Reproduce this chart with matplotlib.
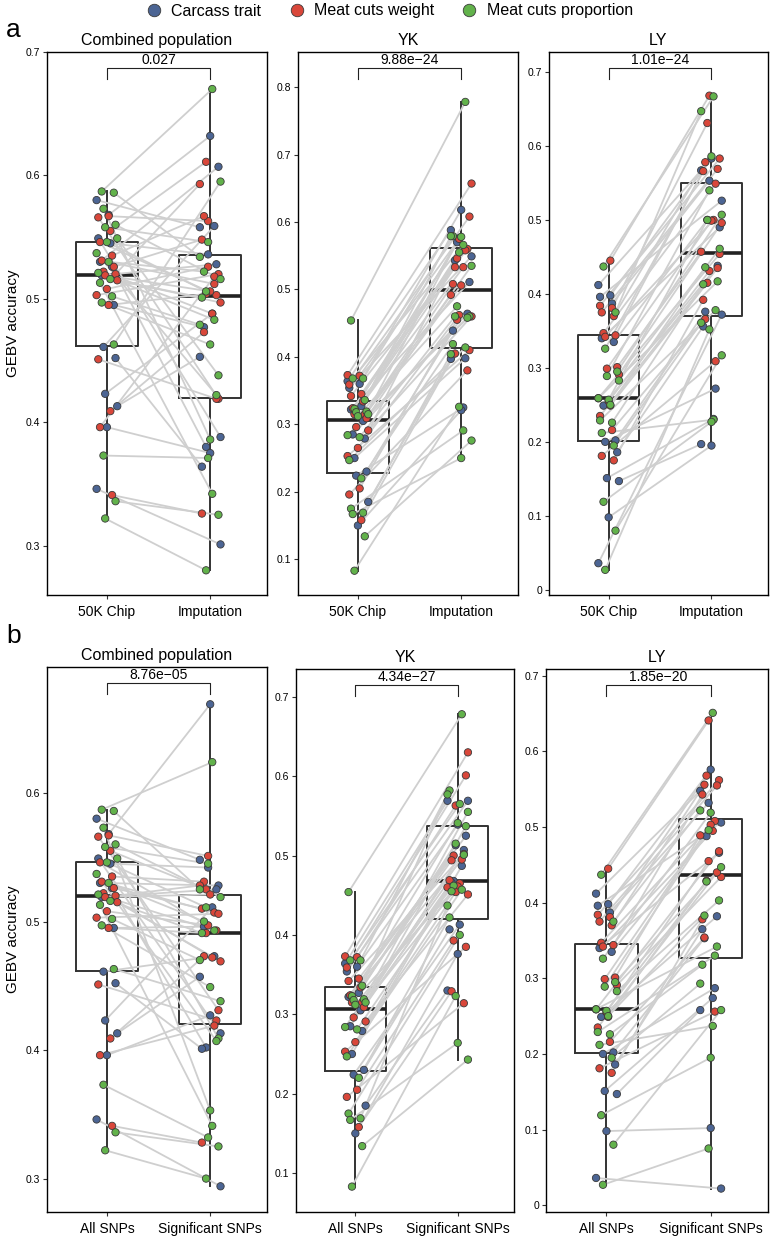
import matplotlib
matplotlib.use('Agg')

import matplotlib.pyplot as plt
from matplotlib.lines import Line2D
import numpy as np

plt.rcParams['font.family'] = ['Liberation Sans', 'DejaVu Sans']

# trait category of each trait (C = carcass trait, W = meat cuts weight, P = meat cuts proportion)
comb_type = ['C'] * 14 + ['W'] * 18 + ['P'] * 18
yk_type = ['C'] * 13 + ['W'] * 17 + ['P'] * 18
ly_type = ['C'] * 14 + ['W'] * 18 + ['P'] * 16

# Combined population: 50K chip (= All SNPs), imputation, significant SNPs
comb_chip = [0.580, 0.568, 0.549, 0.545, 0.530, 0.526, 0.519, 0.495, 0.461, 0.452, 0.423, 0.413, 0.396, 0.346,
             0.567, 0.566, 0.555, 0.546, 0.535, 0.531, 0.526, 0.522, 0.520, 0.519, 0.515, 0.508, 0.503, 0.495,
             0.451, 0.409, 0.396, 0.341,
             0.587, 0.586, 0.573, 0.560, 0.558, 0.549, 0.546, 0.537, 0.530, 0.521, 0.516, 0.513, 0.502, 0.497,
             0.463, 0.373, 0.336, 0.322]
comb_imp = [0.558, 0.632, 0.388, 0.536, 0.607, 0.380, 0.528, 0.477, 0.559, 0.364, 0.488, 0.453, 0.375, 0.301,
            0.563, 0.419, 0.611, 0.503, 0.567, 0.512, 0.548, 0.488, 0.593, 0.506, 0.497, 0.526, 0.520, 0.504,
            0.419, 0.473, 0.518, 0.326,
            0.670, 0.534, 0.386, 0.516, 0.546, 0.438, 0.506, 0.422, 0.522, 0.483, 0.501, 0.342, 0.479, 0.463,
            0.595, 0.371, 0.325, 0.280]
comb_sig = [0.548, 0.669, 0.413, 0.542, 0.528, 0.402, 0.525, 0.496, 0.473, 0.401, 0.511, 0.457, 0.427, 0.294,
            0.551, 0.431, 0.525, 0.493, 0.531, 0.507, 0.510, 0.472, 0.528, 0.521, 0.469, 0.497, 0.506, 0.491,
            0.423, 0.473, 0.419, 0.328,
            0.624, 0.525, 0.353, 0.519, 0.545, 0.409, 0.511, 0.407, 0.500, 0.493, 0.491, 0.341, 0.470, 0.449,
            0.438, 0.332, 0.325, 0.300]

# YK
yk_chip = [0.364, 0.360, 0.354, 0.327, 0.322, 0.305, 0.285, 0.279, 0.250, 0.230, 0.224, 0.185, 0.150,
           0.373, 0.372, 0.359, 0.345, 0.342, 0.334, 0.324, 0.315, 0.315, 0.309, 0.296, 0.291, 0.265, 0.253,
           0.205, 0.196, 0.158,
           0.454, 0.368, 0.368, 0.336, 0.323, 0.319, 0.318, 0.315, 0.312, 0.284, 0.281, 0.247, 0.220, 0.175,
           0.169, 0.167, 0.134, 0.083]
yk_imp = [0.588, 0.618, 0.549, 0.576, 0.511, 0.570, 0.464, 0.543, 0.398, 0.439, 0.325, 0.397, 0.321,
          0.657, 0.575, 0.608, 0.546, 0.560, 0.533, 0.558, 0.508, 0.533, 0.492, 0.506, 0.460, 0.462, 0.410,
          0.455, 0.380, 0.405,
          0.778, 0.579, 0.566, 0.579, 0.578, 0.535, 0.555, 0.460, 0.475, 0.458, 0.460, 0.414, 0.419, 0.291,
          0.404, 0.250, 0.276, 0.326]
yk_sig = [0.569, 0.539, 0.569, 0.513, 0.525, 0.468, 0.507, 0.466, 0.487, 0.407, 0.413, 0.330, 0.376,
          0.630, 0.563, 0.601, 0.500, 0.502, 0.494, 0.495, 0.469, 0.465, 0.460, 0.461, 0.451, 0.454, 0.385,
          0.393, 0.314, 0.329,
          0.678, 0.582, 0.565, 0.577, 0.541, 0.555, 0.515, 0.537, 0.462, 0.501, 0.455, 0.457, 0.422, 0.400,
          0.437, 0.264, 0.243, 0.323]

# LY
ly_chip = [0.412, 0.398, 0.396, 0.387, 0.340, 0.335, 0.249, 0.202, 0.200, 0.186, 0.151, 0.147, 0.098, 0.036,
           0.445, 0.384, 0.381, 0.375, 0.370, 0.347, 0.344, 0.342, 0.301, 0.299, 0.291, 0.255, 0.259, 0.249,
           0.235, 0.216, 0.181, 0.175,
           0.437, 0.375, 0.326, 0.295, 0.289, 0.283, 0.257, 0.259, 0.250, 0.229, 0.226, 0.212, 0.195, 0.119,
           0.080, 0.027]
ly_imp = [0.567, 0.583, 0.526, 0.553, 0.490, 0.500, 0.438, 0.376, 0.272, 0.356, 0.231, 0.197, 0.195, 0.372,
          0.668, 0.583, 0.631, 0.569, 0.578, 0.549, 0.566, 0.500, 0.457, 0.499, 0.496, 0.431, 0.454, 0.415,
          0.435, 0.366, 0.309, 0.392,
          0.667, 0.647, 0.586, 0.507, 0.540, 0.461, 0.500, 0.417, 0.436, 0.378, 0.413, 0.230, 0.361, 0.227,
          0.317, 0.352]
ly_sig = [0.548, 0.576, 0.506, 0.532, 0.466, 0.488, 0.382, 0.353, 0.287, 0.365, 0.274, 0.258, 0.102, 0.022,
          0.641, 0.562, 0.568, 0.555, 0.556, 0.508, 0.543, 0.495, 0.489, 0.503, 0.434, 0.455, 0.468, 0.429,
          0.440, 0.354, 0.256, 0.378,
          0.651, 0.522, 0.519, 0.447, 0.496, 0.403, 0.428, 0.342, 0.383, 0.330, 0.318, 0.237, 0.293, 0.195,
          0.258, 0.075]

type_names = {'C': 'Carcass trait', 'W': 'Meat cuts weight', 'P': 'Meat cuts proportion'}
type_colors = {'C': '#4c6594', 'W': '#d9473a', 'P': '#62b24b'}

labels_a = ['50K Chip', 'Imputation']
labels_b = ['All SNPs', 'Significant SNPs']


def draw_panel(ax, types, left, right, xlabels, title, pval, ylim, yticks, ylabel=False):
    left = np.array(left)
    right = np.array(right)
    n = len(left)
    idx = np.arange(n)
    # deterministic jitter pattern
    jl = ((idx * 7) % 13 - 6) / 6 * 0.1
    jr = ((idx * 5) % 11 - 5) / 5 * 0.1
    cols = [type_colors[t] for t in types]

    ax.boxplot([left, right], positions=[1, 2], widths=0.6, whis=(0, 100), showfliers=False,
               boxprops=dict(color='#333333', lw=1.4),
               whiskerprops=dict(color='#333333', lw=1.4),
               capprops=dict(lw=0),
               medianprops=dict(color='#222222', lw=2.6),
               zorder=1)
    for i in range(n):
        ax.plot([1 + jl[i], 2 + jr[i]], [left[i], right[i]], color='#cfcfcf', lw=1.3, zorder=2,
                solid_capstyle='round')
    ax.scatter(1 + jl, left, s=28, c=cols, edgecolors='#3a3a3a', linewidths=0.6, zorder=3)
    ax.scatter(2 + jr, right, s=28, c=cols, edgecolors='#3a3a3a', linewidths=0.6, zorder=3)

    span = ylim[1] - ylim[0]
    yb = ylim[1] - 0.03 * span
    ax.plot([1, 1, 2, 2], [yb - 0.02 * span, yb, yb, yb - 0.02 * span], color='#222222', lw=0.8, zorder=4)
    ax.text(1.5, yb + 0.002 * span, pval, ha='center', va='bottom', fontsize=10)

    ax.set_xlim(0.42, 2.55)
    ax.set_ylim(*ylim)
    ax.set_xticks([1, 2])
    ax.set_xticklabels(xlabels, fontsize=10)
    ax.set_yticks(yticks)
    ax.set_yticklabels(['0' if t == 0 else f'{t:.1f}' for t in yticks], fontsize=7.5)
    ax.tick_params(axis='both', length=3, width=0.8, color='#333333', pad=2)
    ax.tick_params(axis='x', pad=4)
    for s in ax.spines.values():
        s.set_linewidth(1.0)
    ax.set_title(title, fontsize=11.5, pad=5)
    if ylabel:
        ax.set_ylabel('GEBV accuracy', fontsize=11, labelpad=4)


W, H = 771, 1240
fig = plt.figure(figsize=(W / 100, H / 100), dpi=100)


def add_axes(x0, x1, y0, y1):
    return fig.add_axes([x0 / W, 1 - y1 / H, (x1 - x0) / W, (y1 - y0) / H])


ax1 = add_axes(47, 267, 52, 595)
ax2 = add_axes(298, 518, 52, 595)
ax3 = add_axes(549, 768, 52, 595)
ax4 = add_axes(47, 267, 667, 1212)
ax5 = add_axes(296, 514, 669, 1212)
ax6 = add_axes(546, 768, 669, 1212)

draw_panel(ax1, comb_type, comb_chip, comb_imp, labels_a, 'Combined population', '0.027',
           (0.26, 0.70), [0.3, 0.4, 0.5, 0.6, 0.7], ylabel=True)
draw_panel(ax2, yk_type, yk_chip, yk_imp, labels_a, 'YK', '9.88e\u221224',
           (0.047, 0.852), [0.1, 0.2, 0.3, 0.4, 0.5, 0.6, 0.7, 0.8])
draw_panel(ax3, ly_type, ly_chip, ly_imp, labels_a, 'LY', '1.01e\u221224',
           (-0.007, 0.727), [0, 0.1, 0.2, 0.3, 0.4, 0.5, 0.6, 0.7])
draw_panel(ax4, comb_type, comb_chip, comb_sig, labels_b, 'Combined population', '8.76e\u221205',
           (0.274, 0.698), [0.3, 0.4, 0.5, 0.6], ylabel=True)
draw_panel(ax5, yk_type, yk_chip, yk_sig, labels_b, 'YK', '4.34e\u221227',
           (0.051, 0.735), [0.1, 0.2, 0.3, 0.4, 0.5, 0.6, 0.7])
draw_panel(ax6, ly_type, ly_chip, ly_sig, labels_b, 'LY', '1.85e\u221220',
           (-0.009, 0.709), [0, 0.1, 0.2, 0.3, 0.4, 0.5, 0.6, 0.7])

handles = [Line2D([], [], marker='o', ls='none', markersize=9, markerfacecolor=type_colors[k],
                  markeredgecolor='#3a3a3a', markeredgewidth=0.6, label=type_names[k]) for k in ['C', 'W', 'P']]
fig.legend(handles=handles, loc='center', bbox_to_anchor=(0.5, 1 - 11 / H), ncol=3, frameon=False,
           fontsize=11.5, handletextpad=0.1, columnspacing=1.2)

fig.text(6 / W, 1 - 30 / H, 'a', fontsize=19, va='center')
fig.text(6 / W, 1 - 636 / H, 'b', fontsize=19, va='center')

fig.savefig('out.png', dpi=100)
